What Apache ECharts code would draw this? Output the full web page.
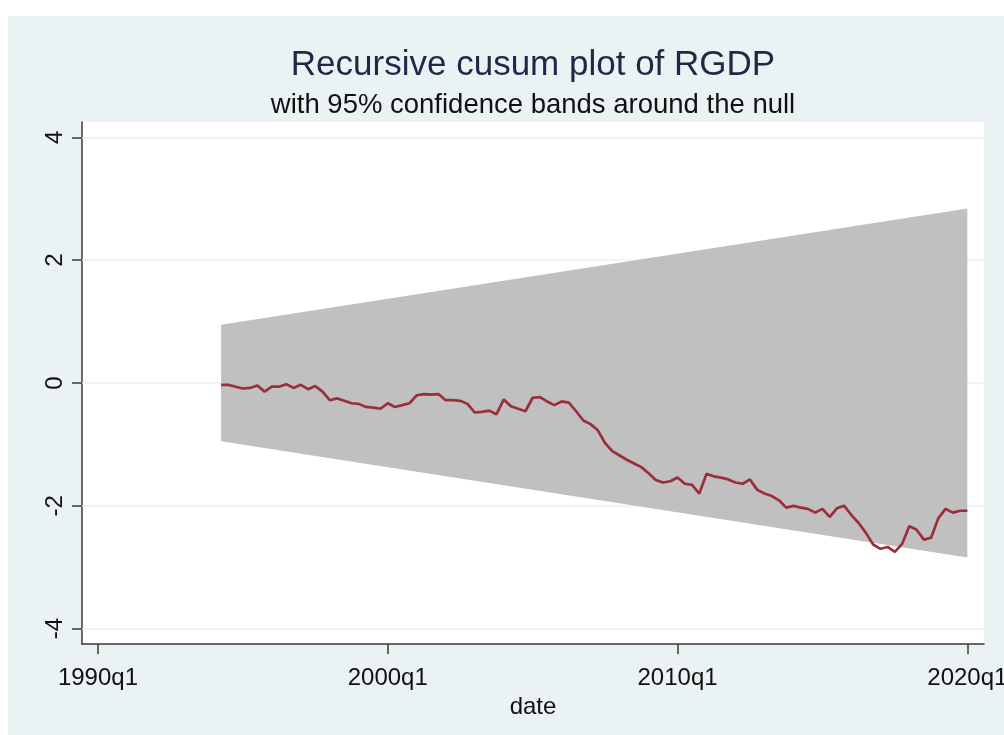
<!DOCTYPE html>
<html>
<head>
<meta charset="utf-8">
<title>Recursive cusum plot of RGDP</title>
<script src="https://cdn.jsdelivr.net/npm/echarts@6/dist/echarts.min.js"></script>
<style>
  html, body { margin: 0; padding: 0; background: #ffffff; }
  #chart { width: 1004px; height: 735px; }
</style>
</head>
<body>
<div id="chart"></div>
<script>
// Quarterly dates are stored as Stata-style %tq indices (1960q1 = 0).
const firstQuarter = "1994q2";

// Recursive CUSUM statistic, one value per quarter from 1994q2 to 2020q1
const cusum = [
  -0.03, -0.03, -0.06,
  -0.09, -0.08, -0.04, -0.14,
  -0.06, -0.06, -0.02, -0.08,
  -0.03, -0.10, -0.05, -0.14,
  -0.28, -0.25, -0.29, -0.33,
  -0.34, -0.39, -0.40, -0.42,
  -0.33, -0.39, -0.36, -0.33,
  -0.20, -0.18, -0.19, -0.18,
  -0.28, -0.28, -0.29, -0.34,
  -0.48, -0.47, -0.45, -0.51,
  -0.27, -0.38, -0.42, -0.46,
  -0.24, -0.23, -0.30, -0.36,
  -0.30, -0.32, -0.46, -0.61,
  -0.67, -0.77, -0.98, -1.11,
  -1.18, -1.25, -1.31, -1.37,
  -1.47, -1.58, -1.62, -1.60,
  -1.54, -1.64, -1.66, -1.80,
  -1.48, -1.52, -1.54, -1.57,
  -1.62, -1.64, -1.57, -1.74,
  -1.80, -1.84, -1.91, -2.03,
  -2.00, -2.03, -2.05, -2.11,
  -2.05, -2.18, -2.04, -2.00,
  -2.15, -2.28, -2.44, -2.63,
  -2.70, -2.67, -2.75, -2.62,
  -2.33, -2.39, -2.55, -2.52,
  -2.20, -2.05, -2.11, -2.08,
  -2.08
];

// 95% confidence band (straight lines between its two end quarters)
const bandQuarters = ["1994q2", "2020q1"];
const bandUpper = [0.95, 2.84];
const bandLower = [-0.95, -2.84];

// Axis ticks
const xTickQuarters = ["1990q1", "2000q1", "2010q1", "2020q1"];
const yTicks = [-4, -2, 0, 2, 4];

function tq(label) {
  const m = /^(\d{4})q([1-4])$/.exec(label);
  return (parseInt(m[1], 10) - 1960) * 4 + (parseInt(m[2], 10) - 1);
}
function tqLabel(v) {
  const y = 1960 + Math.floor(v / 4);
  const q = v - (y - 1960) * 4 + 1;
  return y + "q" + q;
}

const start = tq(firstQuarter);
const cusumData = cusum.map((v, i) => [start + i, v]);
const bandX = bandQuarters.map(tq);
const xTicks = xTickQuarters.map(tq);

const FONT = "'Liberation Sans', Arial, Helvetica, sans-serif";
const BG = "#eaf2f3";

// plot region box (pixels)
const PLOT = { left: 82, top: 122, right: 984, bottom: 644 };
const plotCenterX = (PLOT.left + PLOT.right) / 2;

const chart = echarts.init(document.getElementById("chart"), null, { renderer: "canvas" });

chart.setOption({
  backgroundColor: "#ffffff",
  animation: false,
  graphic: [
    {
      type: "rect",
      z: -10,
      silent: true,
      shape: { x: 8, y: 16, width: 996, height: 719 },
      style: { fill: BG }
    },
    {
      type: "rect",
      z: -9,
      silent: true,
      shape: { x: PLOT.left, y: PLOT.top, width: PLOT.right - PLOT.left, height: PLOT.bottom - PLOT.top },
      style: { fill: "#ffffff" }
    },
    {
      type: "text",
      silent: true,
      x: plotCenterX,
      y: 65,
      style: {
        text: "Recursive cusum plot of RGDP",
        align: "center",
        verticalAlign: "middle",
        font: "normal 35px " + FONT,
        fill: "#1c2a48"
      }
    },
    {
      type: "text",
      silent: true,
      x: plotCenterX,
      y: 105,
      style: {
        text: "with 95% confidence bands around the null",
        align: "center",
        verticalAlign: "middle",
        font: "normal 27.5px " + FONT,
        fill: "#111111"
      }
    }
  ],
  grid: {
    left: PLOT.left,
    right: 1004 - PLOT.right,
    top: PLOT.top,
    bottom: 735 - PLOT.bottom,
    containLabel: false,
    outerBoundsMode: "none"
  },
  xAxis: {
    type: "value",
    min: 117.8,
    max: 242.3,
    name: "date",
    nameLocation: "middle",
    nameGap: 43,
    nameTextStyle: { fontFamily: FONT, fontSize: 24, color: "#111111" },
    axisLine: { show: true, onZero: false, lineStyle: { color: "#3a3a3a", width: 1.5 } },
    axisTick: { show: true, length: 10, customValues: xTicks, lineStyle: { color: "#3a3a3a", width: 1.5 } },
    axisLabel: {
      customValues: xTicks,
      margin: 22,
      fontFamily: FONT,
      fontSize: 24,
      color: "#111111",
      formatter: (v) => tqLabel(Math.round(v))
    },
    splitLine: { show: false }
  },
  yAxis: {
    type: "value",
    min: -4.25,
    max: 4.25,
    axisLine: { show: true, onZero: false, lineStyle: { color: "#3a3a3a", width: 1.5 } },
    axisTick: { show: true, length: 10, customValues: yTicks, lineStyle: { color: "#3a3a3a", width: 1.5 } },
    axisLabel: {
      customValues: yTicks,
      rotate: 90,
      margin: 15,
      fontFamily: FONT,
      fontSize: 24,
      color: "#111111",
      formatter: (v) => String(Math.round(v))
    },
    splitLine: { show: false }
  },
  series: [
    {
      // horizontal grid lines at the y ticks, kept beneath the band
      type: "line",
      silent: true,
      z: 1,
      data: [],
      markLine: {
        silent: true,
        z: 1,
        symbol: "none",
        label: { show: false },
        lineStyle: { color: BG, width: 1.5, type: "solid" },
        data: yTicks.map((v) => ({ yAxis: v }))
      }
    },
    {
      // confidence band
      type: "custom",
      silent: true,
      z: 3,
      data: [[bandX[0], 0]],
      renderItem: function (params, api) {
        const pts = [];
        for (let i = 0; i < bandX.length; i++) pts.push(api.coord([bandX[i], bandUpper[i]]));
        for (let i = bandX.length - 1; i >= 0; i--) pts.push(api.coord([bandX[i], bandLower[i]]));
        return {
          type: "polygon",
          shape: { points: pts },
          style: { fill: "#c0c0c0", stroke: null }
        };
      }
    },
    {
      name: "CUSUM",
      type: "line",
      z: 4,
      data: cusumData,
      showSymbol: false,
      lineStyle: { color: "#9b2e3b", width: 2.7 },
      itemStyle: { color: "#9b2e3b" }
    }
  ]
});
</script>
</body>
</html>
